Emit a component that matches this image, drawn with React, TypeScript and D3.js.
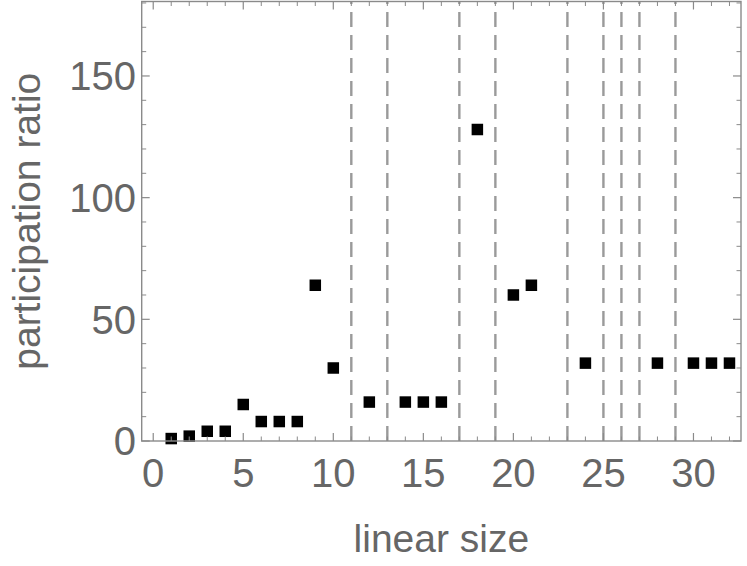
import * as d3 from 'd3';

const sizes = [1, 2, 3, 4, 5, 6, 7, 8, 9, 10, 12, 14, 15, 16, 18, 20, 21, 24, 28, 30, 31, 32];
const ratios = [1, 2, 4, 4, 15, 8, 8, 8, 64, 30, 16, 16, 16, 16, 128, 60, 64, 32, 32, 32, 32, 32];
const dashedAt = [11, 13, 17, 19, 23, 25, 26, 27, 29];
const xTicks = [0, 5, 10, 15, 20, 25, 30];
const yTicks = [0, 50, 100, 150];

const W = 747;
const H = 566;
const left = 141.7;
const right = 741;
const top = 1.5;
const bottom = 441;

const frameColor = '#8a8a8a';
const textColor = '#666666';
const font = '"Liberation Sans", Arial, sans-serif';

export default function App() {
  const x = d3.scaleLinear().domain([-0.64, 32.64]).range([left, right]);
  const y = d3.scaleLinear().domain([0, 180.6]).range([bottom, top]);

  const xMinor = d3.range(0, 33, 1).filter(v => v % 5 !== 0);
  const yMinor = d3.range(0, 181, 10).filter(v => v % 50 !== 0);
  const points = sizes.map((s, i) => ({ s, r: ratios[i] }));
  const sq = 11.5;

  return (
    <svg width={W} height={H} style={{ position: 'absolute', left: 0, top: 0 }}>
      <rect width={W} height={H} fill="#fff" />

      {dashedAt.map(d => (
        <line key={'d' + d} x1={x(d)} x2={x(d)} y1={bottom} y2={top}
          stroke="#9a9a9a" strokeWidth={2.4} strokeDasharray="15,8" />
      ))}

      {points.map(p => (
        <rect key={'p' + p.s} x={x(p.s) - sq / 2} y={y(p.r) - sq / 2}
          width={sq} height={sq} fill="#000" />
      ))}

      {/* ticks, bottom and top */}
      {xTicks.map(t => (
        <g key={'xt' + t} stroke={frameColor} strokeWidth={1.2}>
          <line x1={x(t)} x2={x(t)} y1={bottom} y2={bottom - 8} />
          <line x1={x(t)} x2={x(t)} y1={top} y2={top + 8} />
        </g>
      ))}
      {xMinor.map(t => (
        <g key={'xm' + t} stroke={frameColor} strokeWidth={1}>
          <line x1={x(t)} x2={x(t)} y1={bottom} y2={bottom - 4.5} />
          <line x1={x(t)} x2={x(t)} y1={top} y2={top + 4.5} />
        </g>
      ))}
      {yTicks.map(t => (
        <g key={'yt' + t} stroke={frameColor} strokeWidth={1.2}>
          <line x1={left} x2={left + 8} y1={y(t)} y2={y(t)} />
          <line x1={right} x2={right - 8} y1={y(t)} y2={y(t)} />
        </g>
      ))}
      {yMinor.map(t => (
        <g key={'ym' + t} stroke={frameColor} strokeWidth={1}>
          <line x1={left} x2={left + 4.5} y1={y(t)} y2={y(t)} />
          <line x1={right} x2={right - 4.5} y1={y(t)} y2={y(t)} />
        </g>
      ))}

      <rect x={left} y={top} width={right - left} height={bottom - top}
        fill="none" stroke={frameColor} strokeWidth={1.4} />

      {xTicks.map(t => (
        <text key={'xl' + t} x={x(t)} y={487} textAnchor="middle"
          fontFamily={font} fontSize={40} fill={textColor}>{t}</text>
      ))}
      {yTicks.map(t => (
        <text key={'yl' + t} x={136} y={y(t)} dy="0.36em" textAnchor="end"
          fontFamily={font} fontSize={40} fill={textColor}>{t}</text>
      ))}

      <text x={(left + right) / 2} y={552} textAnchor="middle"
        fontFamily={font} fontSize={39} fill={textColor}>linear size</text>
      <text transform={`translate(40,${(top + bottom) / 2}) rotate(-90)`} textAnchor="middle"
        fontFamily={font} fontSize={39} fill={textColor}>participation ratio</text>
    </svg>
  );
}
